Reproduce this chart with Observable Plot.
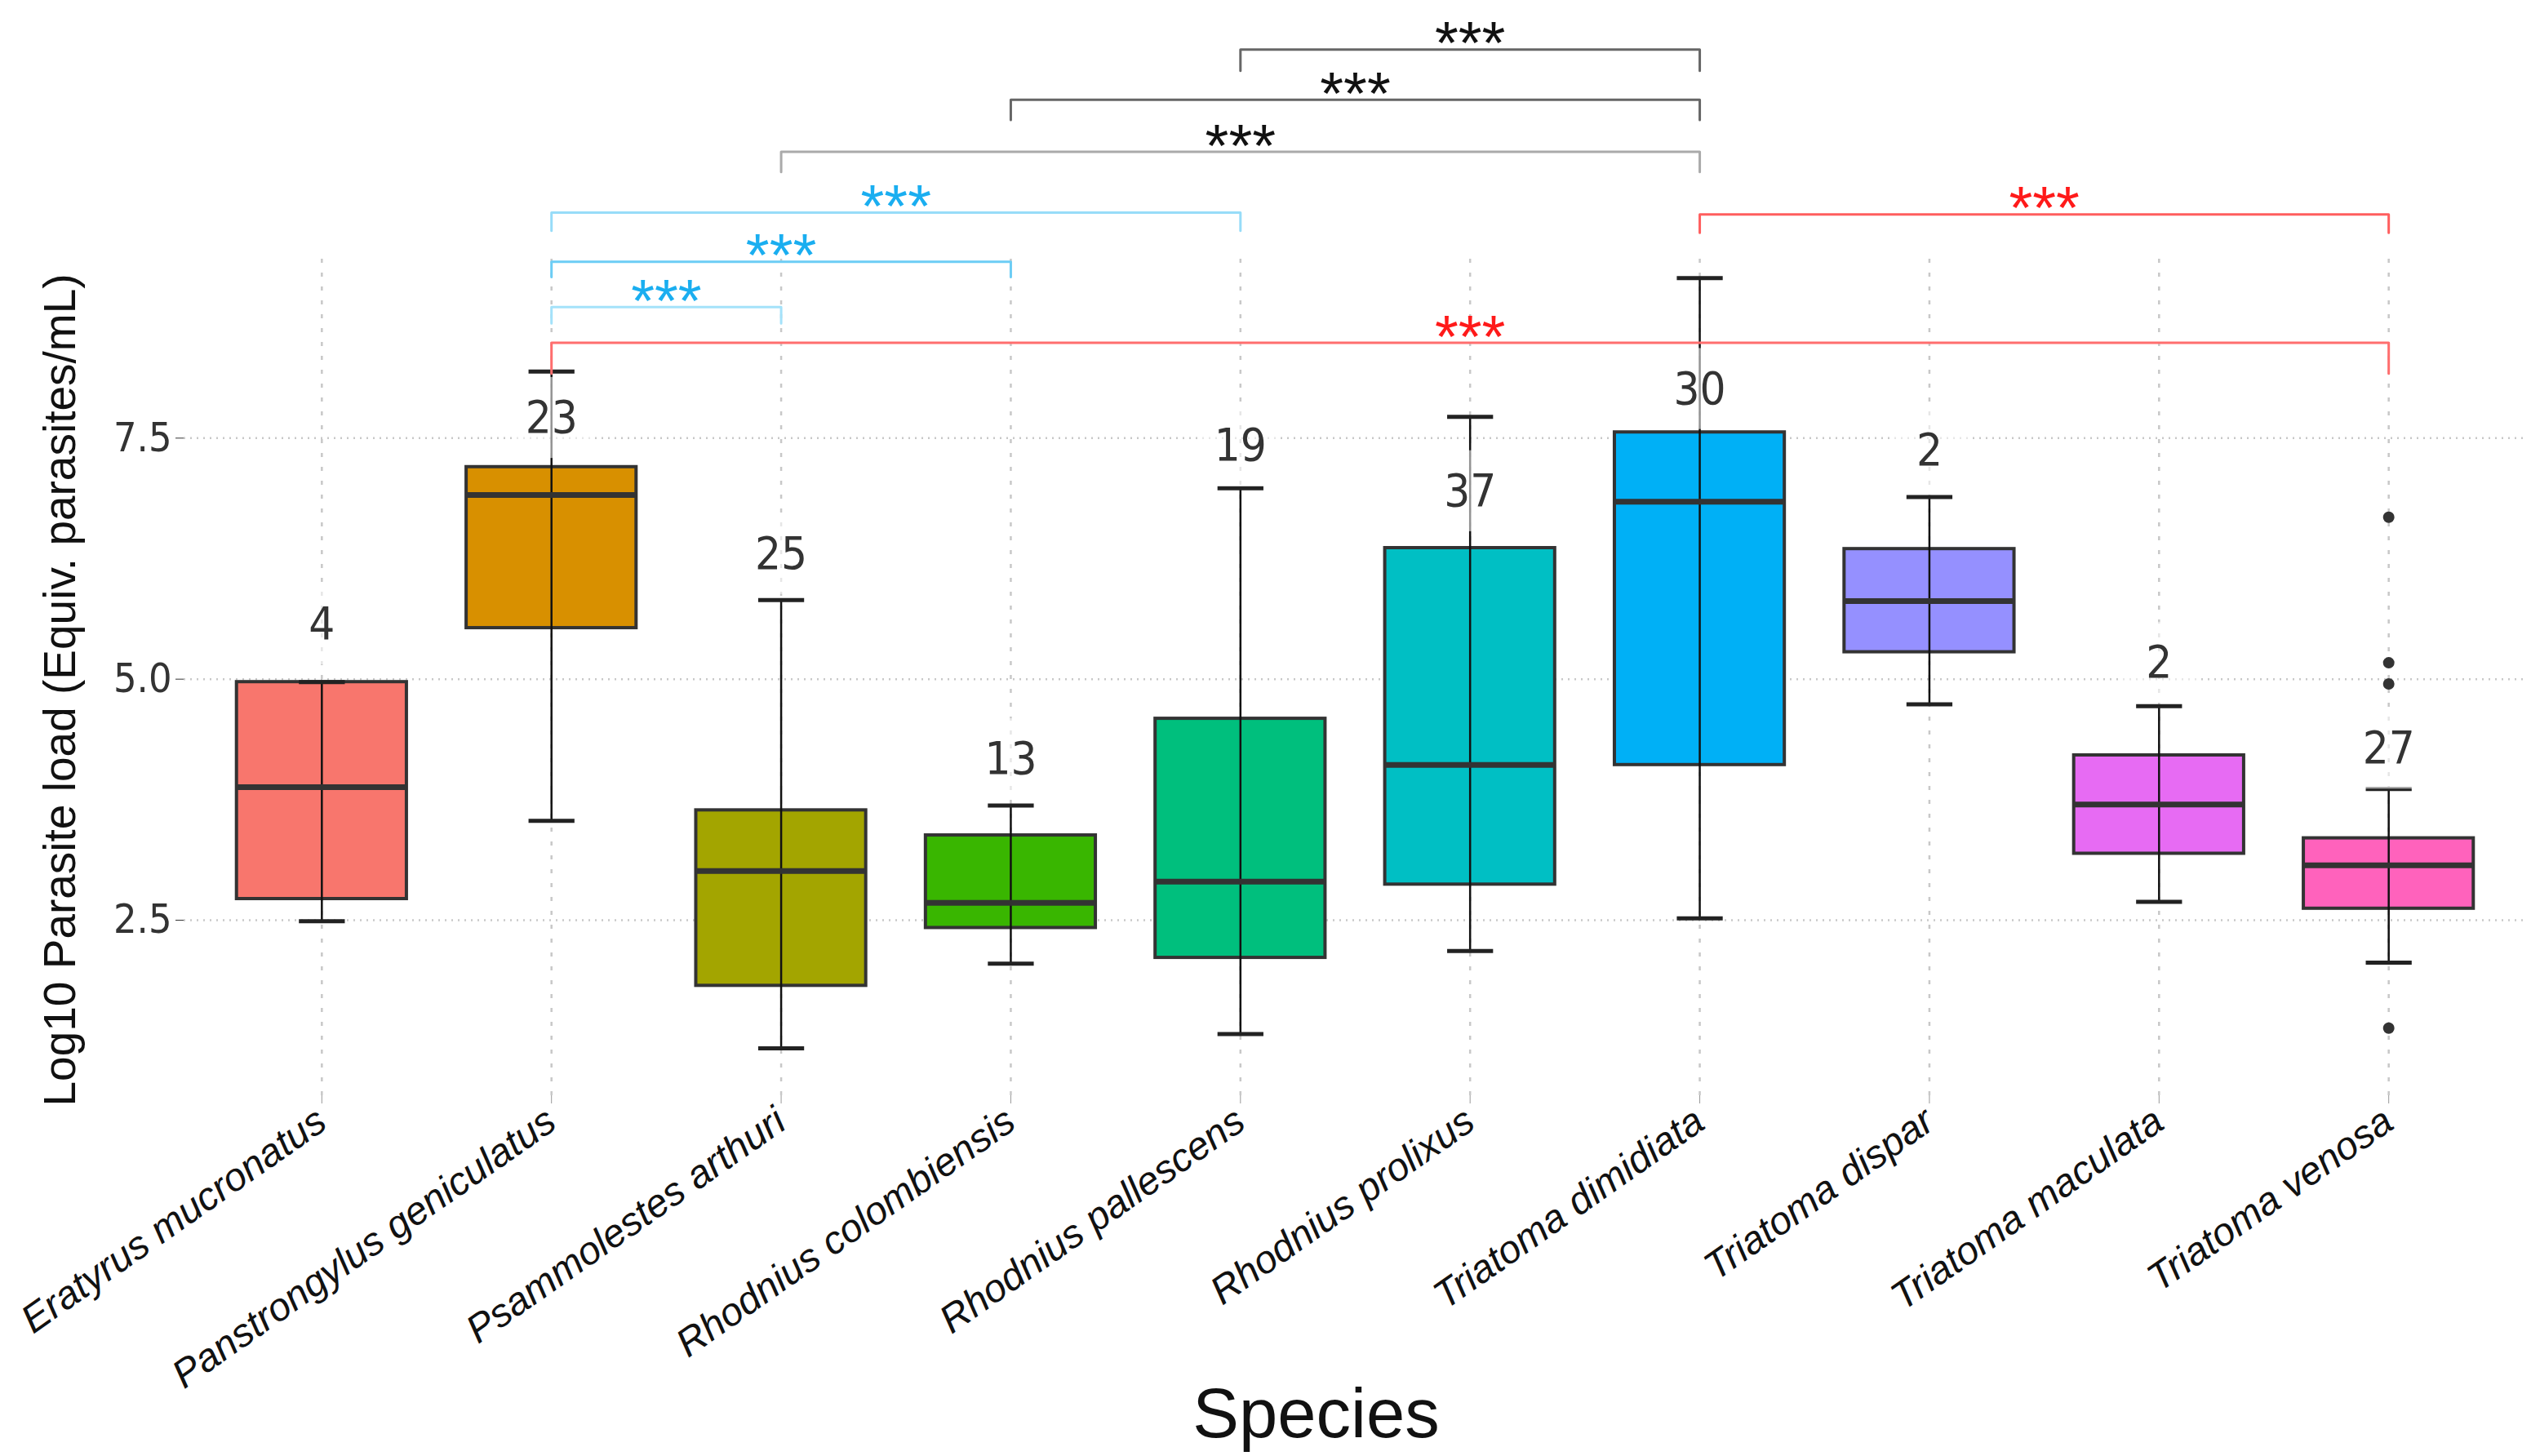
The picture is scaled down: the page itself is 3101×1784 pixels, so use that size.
<!DOCTYPE html>
<html><head><meta charset="utf-8">
<script src="https://cdn.jsdelivr.net/npm/d3@7"></script>
<script src="https://cdn.jsdelivr.net/npm/@observablehq/plot@0.6"></script>
<style>body{margin:0;background:#fff;} svg{overflow:visible;}</style>
</head><body><div id="chart"></div>
<script>
const species = ["Eratyrus mucronatus","Panstrongylus geniculatus","Psammolestes arthuri","Rhodnius colombiensis","Rhodnius pallescens","Rhodnius prolixus","Triatoma dimidiata","Triatoma dispar","Triatoma maculata","Triatoma venosa"];
const colors = ["#F8766D","#D89000","#A3A500","#39B600","#00BF7D","#00BFC4","#00B0F6","#9590FF","#E76BF3","#FF62BC"];
const q1 = [2.72,5.53,1.82,2.42,2.11,2.87,4.11,5.28,3.19,2.62];
const median = [3.88,6.91,3.01,2.68,2.90,4.11,6.84,5.81,3.70,3.07];
const q3 = [4.97,7.20,3.64,3.38,4.59,6.36,7.56,6.35,4.21,3.35];
const whiskerLow = [2.49,3.53,1.17,2.05,1.32,2.18,2.52,4.74,2.69,2.06];
const whiskerHigh = [4.97,8.19,5.82,3.69,6.98,7.72,9.16,6.89,4.72,3.86];
const counts = [4,23,25,13,19,37,30,2,2,27];
const countLabelY = [5.57,7.71,6.30,4.17,7.42,6.95,8.01,7.37,5.17,4.28];
const outlierSpecies = [9,9,9,9];
const outlierValues = [6.68,5.17,4.95,1.38];
const yTicks = [2.5,5.0,7.5];
const sigFrom = [4,3,2,1,1,1,6,1];
const sigTo = [6,6,6,4,3,2,9,9];
const sigLevel = [11.53,11.01,10.47,9.84,9.33,8.86,9.82,8.49];
const sigTip = [11.31,10.80,10.26,9.65,9.17,8.69,9.63,8.17];
const sigLabel = ["***","***","***","***","***","***","***","***"];
const sigLineColor = ["#666666","#666666","#aaaaaa","#97dcf8","#6ccdf5","#a4e2fa","#ff5e5e","#ff6e6e"];
const sigTextColor = ["#111111","#111111","#111111","#1aaef0","#1aaef0","#1aaef0","#ff1a1a","#ff1a1a"];

const panelY = [0.68, 9.43];
const boxes = species.map((s,i)=>({i, s, color: colors[i], q1:q1[i], med:median[i], q3:q3[i], lo:whiskerLow[i], hi:whiskerHigh[i], n:counts[i], ny:countLabelY[i]}));
const outliers = outlierValues.map((v,k)=>({i: outlierSpecies[k], v}));
const brackets = sigFrom.map((f,k)=>({k, from:f, to:sigTo[k], level:sigLevel[k], tip:sigTip[k], label:sigLabel[k], line:sigLineColor[k], text:sigTextColor[k]}));
const bracketPts = brackets.flatMap(b=>[
  {k:b.k, x:b.from, y:b.tip, c:b.line},
  {k:b.k, x:b.from, y:b.level, c:b.line},
  {k:b.k, x:b.to, y:b.level, c:b.line},
  {k:b.k, x:b.to, y:b.tip, c:b.line}
]);
const halfBox = 0.37, halfCap = 0.1;
const numFont = "'DejaVu Sans Condensed','Liberation Sans Narrow','Liberation Sans',sans-serif";
const font = "'Liberation Sans',Arial,sans-serif";

const chart = Plot.plot({
  width: 3101, height: 1784,
  marginLeft: 225, marginRight: 6, marginTop: 0, marginBottom: 442,
  style: {fontFamily: font, background: "#fff"},
  x: {type: "linear", domain: [-0.6, 9.6], axis: null},
  y: {type: "linear", domain: [0.68, 12.04], axis: null},
  marks: [
    Plot.ruleY(yTicks, {stroke: "#c8c8c8", strokeWidth: 2.5, strokeDasharray: "2,6"}),
    Plot.ruleX(d3.range(species.length), {x: d=>d, y1: panelY[0], y2: panelY[1], stroke: "#c8c8c8", strokeWidth: 2.5, strokeDasharray: "5,12"}),
    Plot.rect(boxes, {x1: d=>d.i-halfBox, x2: d=>d.i+halfBox, y1: "q1", y2: "q3", fill: "color", stroke: "#333", strokeWidth: 4}),
    Plot.ruleX(boxes, {x: "i", y1: "lo", y2: "hi", stroke: "#111", strokeWidth: 2.5}),
    Plot.link(boxes, {x1: d=>d.i-halfBox, x2: d=>d.i+halfBox, y1: "med", y2: "med", stroke: "#333", strokeWidth: 7}),
    Plot.link(boxes, {x1: d=>d.i-halfCap, x2: d=>d.i+halfCap, y1: "lo", y2: "lo", stroke: "#222", strokeWidth: 5}),
    Plot.link(boxes, {x1: d=>d.i-halfCap, x2: d=>d.i+halfCap, y1: "hi", y2: "hi", stroke: "#222", strokeWidth: 5}),
    Plot.dot(outliers, {x: "i", y: "v", r: 7, fill: "#333", stroke: null}),
    Plot.rect(boxes, {x1: d=>d.i-0.17, x2: d=>d.i+0.17, y1: d=>d.ny-0.42, y2: d=>d.ny+0.42, fill: "white", fillOpacity: 0.55}),
    Plot.text(boxes, {x: "i", y: "ny", text: d=>String(d.n), fontSize: 56, fill: "#333", fontFamily: numFont}),
    Plot.line(bracketPts, {x: "x", y: "y", z: "k", stroke: "c", strokeWidth: 3}),
    Plot.text(brackets, {x: d=>(d.from+d.to)/2, y: "level", text: "label", fill: "text", fontSize: 74, lineAnchor: "middle", dy: -6}),
    Plot.axisY({ticks: yTicks, tickFormat: d3.format(".1f"), fontSize: 50, tickSize: 10, tickPadding: 5, color: "#333", fontFamily: numFont, label: null}),
    Plot.axisX({ticks: d3.range(species.length), tickFormat: i=>species[i], tickRotate: -35, fontSize: 48, fontStyle: "italic", tickSize: 10, tickPadding: 16, stroke: "#999", fill: "#111", label: null}),
    Plot.text(["Log10 Parasite load (Equiv. parasites/mL)"], {frameAnchor: "left", textAnchor: "middle", rotate: -90, dx: -151, dy: 174, fontSize: 55, fill: "#111", lineAnchor: "middle"}),
    Plot.text(["Species"], {frameAnchor: "bottom", dx: -48, dy: 391, fontSize: 85, fill: "#111", lineAnchor: "middle"})
  ]
});
document.getElementById("chart").append(chart);
</script></body></html>
